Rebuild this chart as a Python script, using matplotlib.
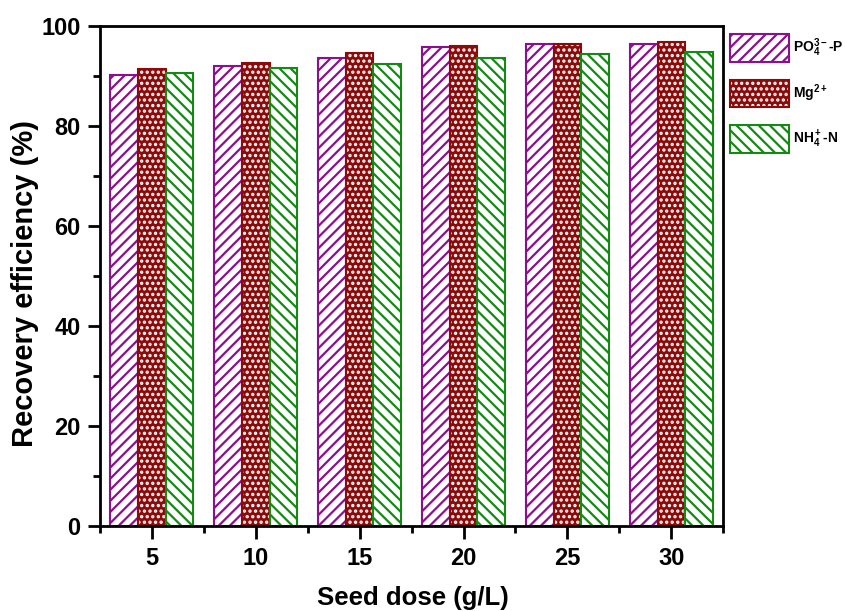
import matplotlib
matplotlib.use("Agg")
import matplotlib.pyplot as plt
from matplotlib.legend_handler import HandlerTuple
from matplotlib.ticker import MultipleLocator
import numpy as np

# seed dose (g/L) and recovery efficiency (%) per ion
doses = [5, 10, 15, 20, 25, 30]
po4_p = [90.2, 92.1, 93.7, 95.9, 96.4, 96.4]
mg = [91.4, 92.7, 94.7, 96.0, 96.4, 96.8]
nh4_n = [90.7, 91.7, 92.4, 93.7, 94.5, 94.8]

labels = [r"PO$_4^{3-}$-P", r"Mg$^{2+}$", r"NH$_4^+$-N"]

PURPLE = "#8b0f8f"
DARKRED = "#8b0a0a"
GREEN = "#138a13"

plt.rcParams["font.family"] = ["Liberation Sans", "DejaVu Sans"]
plt.rcParams["font.weight"] = "bold"
plt.rcParams["mathtext.fontset"] = "custom"
plt.rcParams["mathtext.rm"] = "Liberation Sans:bold"
plt.rcParams["mathtext.it"] = "Liberation Sans:bold"
plt.rcParams["mathtext.bf"] = "Liberation Sans:bold"
plt.rcParams["mathtext.default"] = "rm"
plt.rcParams["hatch.linewidth"] = 1.6

fig = plt.figure(figsize=(8.46, 6.11), dpi=100)
ax = fig.add_axes([0.118, 0.139, 0.737, 0.818])

x = np.array(doses, dtype=float)
w = 1.33

b1 = ax.bar(x - w, po4_p, w, facecolor="white", edgecolor=PURPLE,
            hatch="///", linewidth=1.5)

# dotted bars: white hatch on dark red, outline drawn separately
plt.rcParams["hatch.color"] = "white"
b2 = ax.bar(x, mg, w, facecolor=DARKRED, hatch="...", linewidth=0)
b2o = ax.bar(x, mg, w, fill=False, edgecolor=DARKRED, linewidth=1.5)

b3 = ax.bar(x + w, nh4_n, w, facecolor="white", edgecolor=GREEN,
            hatch="\\\\\\", linewidth=1.5)

ax.set_xlim(2.5, 32.5)
ax.set_ylim(0, 100)
ax.set_xticks(doses)
ax.xaxis.set_minor_locator(MultipleLocator(2.5))
ax.yaxis.set_major_locator(MultipleLocator(20))
ax.yaxis.set_minor_locator(MultipleLocator(10))

for s in ax.spines.values():
    s.set_linewidth(2)
ax.tick_params(which="major", direction="out", length=9, width=2,
               labelsize=17, pad=5)
ax.tick_params(which="minor", direction="out", length=5, width=2)
ax.tick_params(axis="x", which="major", pad=6)

ax.set_xlabel("Seed dose (g/L)", fontsize=18.5, fontweight="bold")
ax.set_ylabel("Recovery efficiency (%)", fontsize=21, fontweight="bold")
ax.xaxis.set_label_coords(0.502, -0.144)
ax.xaxis.label.set_verticalalignment("center")
ax.yaxis.set_label_coords(-0.12, 0.486)
ax.yaxis.label.set_verticalalignment("center")

leg = ax.legend([b1, (b2[0], b2o[0]), b3], labels,
                handler_map={tuple: HandlerTuple(ndivide=1, pad=0)},
                loc="upper left", bbox_to_anchor=(1.01, 0.985),
                frameon=False, fontsize=10, handlelength=4.3,
                handleheight=2.7, labelspacing=1.3, handletextpad=0.3,
                borderpad=0, borderaxespad=0)

fig.savefig("out.png", dpi=100)
